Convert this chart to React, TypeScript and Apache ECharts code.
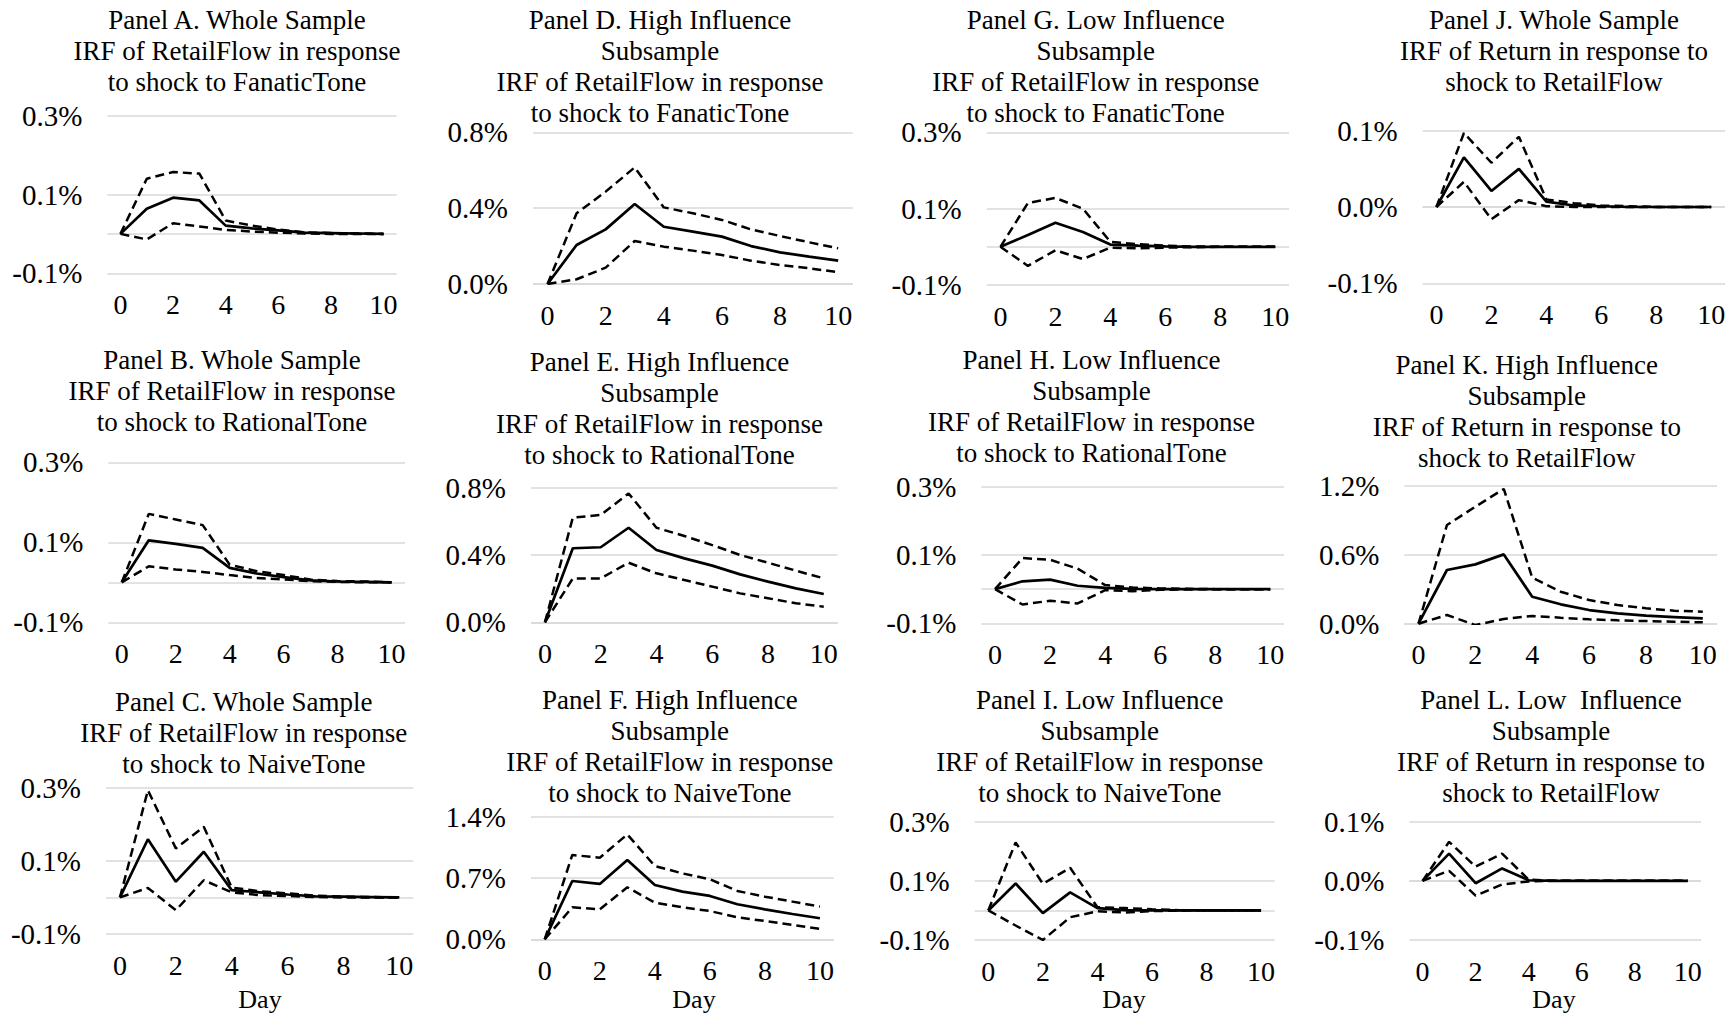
import React, { useEffect, useRef } from "react";
import * as echarts from "echarts";

// ---------- DATA ----------
const DAYS = ["0", "1", "2", "3", "4", "5", "6", "7", "8", "9", "10"];

const TITLE_A = "Panel A. Whole Sample\nIRF of RetailFlow in response\nto shock to FanaticTone";
const TITLE_B = "Panel B. Whole Sample\nIRF of RetailFlow in response\nto shock to RationalTone";
const TITLE_C = "Panel C. Whole Sample\nIRF of RetailFlow in response\nto shock to NaiveTone";
const TITLE_D = "Panel D. High Influence\nSubsample\nIRF of RetailFlow in response\nto shock to FanaticTone";
const TITLE_E = "Panel E. High Influence\nSubsample\nIRF of RetailFlow in response\nto shock to RationalTone";
const TITLE_F = "Panel F. High Influence\nSubsample\nIRF of RetailFlow in response\nto shock to NaiveTone";
const TITLE_G = "Panel G. Low Influence\nSubsample\nIRF of RetailFlow in response\nto shock to FanaticTone";
const TITLE_H = "Panel H. Low Influence\nSubsample\nIRF of RetailFlow in response\nto shock to RationalTone";
const TITLE_I = "Panel I. Low Influence\nSubsample\nIRF of RetailFlow in response\nto shock to NaiveTone";
const TITLE_J = "Panel J. Whole Sample\nIRF of Return in response to\nshock to RetailFlow";
const TITLE_K = "Panel K. High Influence\nSubsample\nIRF of Return in response to\nshock to RetailFlow";
const TITLE_L = "Panel L. Low  Influence\nSubsample\nIRF of Return in response to\nshock to RetailFlow";

const X_NAME = "Day";

// values in percent
const A_MID = [0, 0.064, 0.092, 0.085, 0.021, 0.014, 0.009, 0.003, 0.002, 0.001, 0.0];
const A_UP = [0, 0.14, 0.157, 0.153, 0.034, 0.021, 0.011, 0.004, 0.002, 0.001, 0.0];
const A_LO = [0, -0.014, 0.027, 0.019, 0.01, 0.006, 0.003, 0.001, 0.0, 0.0, 0.0];
const A_TICKS = [-0.1, 0.1, 0.3];

const B_MID = [0, 0.105, 0.096, 0.086, 0.036, 0.022, 0.013, 0.005, 0.002, 0.001, 0.0];
const B_UP = [0, 0.171, 0.157, 0.143, 0.044, 0.028, 0.018, 0.007, 0.003, 0.002, 0.0];
const B_LO = [0, 0.04, 0.032, 0.026, 0.018, 0.011, 0.007, 0.003, 0.001, 0.0, 0.0];
const B_TICKS = [-0.1, 0.1, 0.3];

const C_MID = [0, 0.159, 0.043, 0.125, 0.02, 0.014, 0.008, 0.003, 0.002, 0.001, 0.0];
const C_UP = [0, 0.293, 0.134, 0.193, 0.027, 0.017, 0.011, 0.005, 0.002, 0.001, 0.0];
const C_LO = [0, 0.026, -0.035, 0.047, 0.014, 0.006, 0.004, 0.001, 0.0, 0.0, 0.0];
const C_TICKS = [-0.1, 0.1, 0.3];

const D_MID = [0, 0.206, 0.288, 0.422, 0.302, 0.276, 0.25, 0.2, 0.167, 0.144, 0.123];
const D_UP = [0, 0.373, 0.487, 0.615, 0.404, 0.373, 0.338, 0.288, 0.253, 0.22, 0.188];
const D_LO = [0, 0.025, 0.086, 0.227, 0.197, 0.176, 0.153, 0.123, 0.1, 0.083, 0.062];
const D_TICKS = [0.0, 0.4, 0.8];

const E_MID = [0, 0.44, 0.446, 0.562, 0.43, 0.38, 0.337, 0.285, 0.242, 0.202, 0.168];
const E_UP = [0, 0.622, 0.638, 0.766, 0.562, 0.513, 0.459, 0.4, 0.354, 0.307, 0.261];
const E_LO = [0, 0.261, 0.261, 0.354, 0.291, 0.251, 0.212, 0.172, 0.143, 0.113, 0.093];
const E_TICKS = [0.0, 0.4, 0.8];

const F_MID = [0, 0.666, 0.632, 0.905, 0.62, 0.544, 0.495, 0.4, 0.342, 0.289, 0.24];
const F_UP = [0, 0.963, 0.932, 1.198, 0.837, 0.753, 0.685, 0.552, 0.487, 0.43, 0.373];
const F_LO = [0, 0.365, 0.342, 0.594, 0.418, 0.365, 0.323, 0.251, 0.209, 0.164, 0.118];
const F_TICKS = [0.0, 0.7, 1.4];

const G_MID = [0, 0.031, 0.063, 0.039, 0.006, 0.003, 0.001, 0.0, 0.0, 0.0, 0.0];
const G_UP = [0, 0.115, 0.128, 0.1, 0.013, 0.007, 0.003, 0.001, 0.0, 0.0, 0.0];
const G_LO = [0, -0.05, -0.009, -0.032, -0.002, -0.004, -0.002, -0.001, 0.0, 0.0, 0.0];
const G_TICKS = [-0.1, 0.1, 0.3];

const H_MID = [0, 0.023, 0.028, 0.01, 0.004, 0.001, 0.0, 0.0, 0.0, 0.0, 0.0];
const H_UP = [0, 0.091, 0.086, 0.06, 0.012, 0.005, 0.002, 0.001, 0.0, 0.0, 0.0];
const H_LO = [0, -0.045, -0.034, -0.042, -0.003, -0.006, -0.002, -0.001, 0.0, 0.0, 0.0];
const H_TICKS = [-0.1, 0.1, 0.3];

const I_MID = [0, 0.091, -0.009, 0.061, 0.008, 0.001, 0.0, 0.0, 0.0, 0.0, 0.0];
const I_UP = [0, 0.23, 0.09, 0.144, 0.011, 0.008, 0.004, 0.001, 0.0, 0.0, 0.0];
const I_LO = [0, -0.051, -0.1, -0.023, -0.003, -0.007, -0.002, -0.001, 0.0, 0.0, 0.0];
const I_TICKS = [-0.1, 0.1, 0.3];

const J_MID = [0, 0.065, 0.021, 0.05, 0.007, 0.002, 0.001, 0.0, 0.0, 0.0, 0.0];
const J_UP = [0, 0.097, 0.058, 0.092, 0.01, 0.005, 0.002, 0.001, 0.0, 0.0, 0.0];
const J_LO = [0, 0.033, -0.016, 0.009, 0.001, 0.0, 0.0, 0.0, 0.0, 0.0, 0.0];
const J_TICKS = [-0.1, 0.0, 0.1];

const K_MID = [0, 0.468, 0.517, 0.604, 0.235, 0.169, 0.119, 0.09, 0.07, 0.058, 0.046];
const K_UP = [0, 0.86, 1.02, 1.174, 0.401, 0.279, 0.206, 0.163, 0.134, 0.113, 0.105];
const K_LO = [0, 0.076, -0.012, 0.041, 0.067, 0.052, 0.038, 0.029, 0.023, 0.017, 0.012];
const K_TICKS = [0.0, 0.6, 1.2];

const L_MID = [0, 0.046, -0.004, 0.021, 0.001, 0.0, 0.0, 0.0, 0.0, 0.0, 0.0];
const L_UP = [0, 0.066, 0.024, 0.046, 0.002, 0.0, 0.0, 0.0, 0.0, 0.0, 0.0];
const L_LO = [0, 0.017, -0.025, -0.006, -0.001, 0.0, 0.0, 0.0, 0.0, 0.0, 0.0];
const L_TICKS = [-0.1, 0.0, 0.1];

// ---------- LAYOUT (pixels) ----------
// [left, top, width, height] of plot area; title centre x, first-line centre y
const PANELS = [
  { title: TITLE_A, mid: A_MID, up: A_UP, lo: A_LO, ticks: A_TICKS, box: [107.3, 115.7, 289.4, 157.6], tx: 237, ty: 20, day: null },
  { title: TITLE_D, mid: D_MID, up: D_UP, lo: D_LO, ticks: D_TICKS, box: [533, 132.3, 319.7, 151.7], tx: 660, ty: 20, day: null },
  { title: TITLE_G, mid: G_MID, up: G_UP, lo: G_LO, ticks: G_TICKS, box: [986.7, 132.3, 302.3, 152.7], tx: 1095.7, ty: 20, day: null },
  { title: TITLE_J, mid: J_MID, up: J_UP, lo: J_LO, ticks: J_TICKS, box: [1422.7, 130.7, 302.3, 152.6], tx: 1554, ty: 20, day: null },
  { title: TITLE_B, mid: B_MID, up: B_UP, lo: B_LO, ticks: B_TICKS, box: [108.3, 462.3, 296.7, 160], tx: 232, ty: 360, day: null },
  { title: TITLE_E, mid: E_MID, up: E_UP, lo: E_LO, ticks: E_TICKS, box: [531, 487.7, 306.7, 134.6], tx: 659.5, ty: 361.7, day: null },
  { title: TITLE_H, mid: H_MID, up: H_UP, lo: H_LO, ticks: H_TICKS, box: [981.3, 486.7, 302.7, 136.6], tx: 1091.5, ty: 360, day: null },
  { title: TITLE_K, mid: K_MID, up: K_UP, lo: K_LO, ticks: K_TICKS, box: [1404.3, 486, 312.7, 137.7], tx: 1526.8, ty: 365, day: null },
  { title: TITLE_C, mid: C_MID, up: C_UP, lo: C_LO, ticks: C_TICKS, box: [106, 787.7, 307.3, 146.3], tx: 243.8, ty: 701.7, day: [260, 999] },
  { title: TITLE_F, mid: F_MID, up: F_UP, lo: F_LO, ticks: F_TICKS, box: [531, 816.7, 302.7, 122.6], tx: 669.8, ty: 700, day: [694, 999] },
  { title: TITLE_I, mid: I_MID, up: I_UP, lo: I_LO, ticks: I_TICKS, box: [974.7, 821.7, 300, 118.3], tx: 1099.8, ty: 700, day: [1124, 999] },
  { title: TITLE_L, mid: L_MID, up: L_UP, lo: L_LO, ticks: L_TICKS, box: [1409.3, 821.7, 291.7, 118.3], tx: 1551, ty: 700, day: [1554, 999] },
];

const FONT = '"Liberation Serif", "Times New Roman", serif';
const TITLE_SIZE = 27;
const TITLE_LH = 31;
const YTICK_SIZE = 29;
const XTICK_SIZE = 28;
const DAY_SIZE = 26;
const GRID_COLOR = "#d9d9d9";

export default function App() {
  const ref = useRef<HTMLDivElement>(null);

  useEffect(() => {
    if (!ref.current) return;
    const chart = echarts.init(ref.current, undefined, { renderer: "svg" });

    const grid: any[] = [];
    const xAxis: any[] = [];
    const yAxis: any[] = [];
    const series: any[] = [];
    const graphic: any[] = [];

    PANELS.forEach((p, i) => {
      const [l, t, w, h] = p.box;
      grid.push({ left: l, top: t, width: w, height: h, containLabel: false });
      xAxis.push({
        type: "category",
        gridIndex: i,
        data: DAYS,
        boundaryGap: true,
        axisLine: { show: false },
        axisTick: { show: false },
        splitLine: { show: false },
        axisLabel: {
          interval: 1,
          margin: 18,
          fontSize: XTICK_SIZE,
          fontFamily: FONT,
          color: "#000",
          lineHeight: 26,
        },
      });
      const tk = p.ticks;
      yAxis.push({
        type: "value",
        gridIndex: i,
        min: tk[0],
        max: tk[tk.length - 1],
        interval: tk[1] - tk[0],
        axisLine: { show: false },
        axisTick: { show: false },
        splitLine: { show: true, lineStyle: { color: GRID_COLOR, width: 1.5 } },
        axisLabel: {
          margin: 25,
          fontSize: YTICK_SIZE,
          fontFamily: FONT,
          color: "#000",
          formatter: (v: number) => v.toFixed(1) + "%",
        },
      });
      const dashed = { color: "#000", width: 2.5, type: [9, 5] };
      series.push({
        type: "line",
        xAxisIndex: i,
        yAxisIndex: i,
        data: p.up,
        showSymbol: false,
        symbol: "none",
        lineStyle: dashed,
        z: 3,
        markLine: {
          silent: true,
          symbol: "none",
          z: 1,
          label: { show: false },
          lineStyle: { color: GRID_COLOR, type: "solid", width: 1.5 },
          data: [{ yAxis: 0 }],
        },
      });
      series.push({
        type: "line",
        xAxisIndex: i,
        yAxisIndex: i,
        data: p.lo,
        showSymbol: false,
        symbol: "none",
        lineStyle: dashed,
        z: 3,
      });
      series.push({
        type: "line",
        xAxisIndex: i,
        yAxisIndex: i,
        data: p.mid,
        showSymbol: false,
        symbol: "none",
        lineStyle: { color: "#000", width: 2.7, type: "solid" },
        z: 4,
      });
      graphic.push({
        type: "text",
        x: p.tx,
        y: p.ty - TITLE_LH / 2,
        style: {
          text: p.title,
          fill: "#000",
          fontSize: TITLE_SIZE,
          fontFamily: FONT,
          lineHeight: TITLE_LH,
          textAlign: "center",
          textVerticalAlign: "top",
        },
      });
      if (p.day) {
        graphic.push({
          type: "text",
          x: p.day[0],
          y: p.day[1],
          style: {
            text: X_NAME,
            fill: "#000",
            fontSize: DAY_SIZE,
            fontFamily: FONT,
            lineHeight: 24,
            textAlign: "center",
            textVerticalAlign: "middle",
          },
        });
      }
    });

    chart.setOption({
      animation: false,
      backgroundColor: "#fff",
      grid,
      xAxis,
      yAxis,
      series,
      graphic,
    });

    return () => chart.dispose();
  }, []);

  return (
    <div
      ref={ref}
      style={{ position: "fixed", left: 0, top: 0, width: 1736, height: 1014, background: "#fff" }}
    />
  );
}
